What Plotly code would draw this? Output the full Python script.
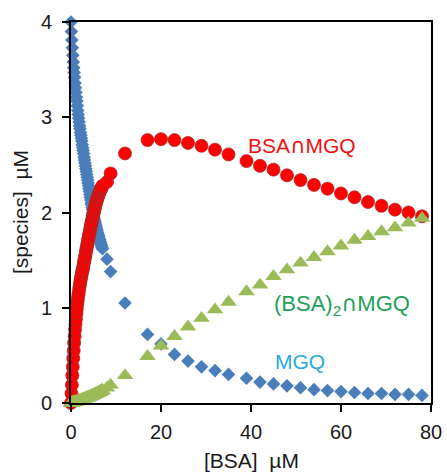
import plotly.graph_objects as go

# BSA concentration (µM) at each simulated point
bsa = [0.0, 0.1, 0.2, 0.3, 0.4, 0.5, 0.6, 0.7, 0.8, 0.9,
       1.0, 1.1, 1.2, 1.3, 1.4, 1.5, 1.6, 1.7, 1.8, 1.9,
       2.0, 2.1, 2.2, 2.3, 2.4, 2.5, 2.6, 2.7, 2.8, 2.9,
       3.0, 3.1, 3.2, 3.3, 3.4, 3.5, 3.6, 3.7, 3.8, 3.9,
       4.0, 4.1, 4.2, 4.3, 4.4, 4.5, 4.6, 4.7, 4.8, 4.9,
       5.0, 5.1, 5.2, 5.3, 5.4, 5.5, 5.6, 5.7, 5.8, 5.9,
       6.0, 6.1, 6.2, 6.3, 6.4, 6.5, 6.6, 6.7, 6.8, 6.9,
       7.0, 8.0, 8.8, 12, 17, 20, 23, 26, 29, 32, 35,
       39, 42, 45, 48, 51, 54, 57, 60, 63, 66, 69, 72, 75, 78]

# free MGQ (µM)
mgq = [4.00, 3.90, 3.81, 3.73, 3.65, 3.58, 3.52, 3.47, 3.42, 3.36,
       3.31, 3.26, 3.21, 3.17, 3.12, 3.07, 3.03, 2.99, 2.95, 2.91,
       2.88, 2.84, 2.81, 2.78, 2.75, 2.71, 2.68, 2.65, 2.62, 2.58,
       2.55, 2.52, 2.49, 2.46, 2.43, 2.40, 2.37, 2.34, 2.31, 2.28,
       2.25, 2.22, 2.19, 2.16, 2.13, 2.10, 2.08, 2.05, 2.03, 2.00,
       1.98, 1.95, 1.93, 1.91, 1.89, 1.87, 1.85, 1.83, 1.81, 1.79,
       1.77, 1.76, 1.74, 1.72, 1.71, 1.69, 1.68, 1.66, 1.65, 1.63,
       1.62, 1.51, 1.38, 1.05, 0.72, 0.62, 0.51, 0.44, 0.38, 0.34, 0.30,
       0.26, 0.22, 0.20, 0.18, 0.16, 0.14, 0.13, 0.12, 0.11, 0.10, 0.10, 0.09, 0.09, 0.08]

# BSA∩MGQ complex (µM)
bsa_mgq = [0.00, 0.10, 0.19, 0.29, 0.38, 0.47, 0.55, 0.63, 0.70, 0.77,
           0.83, 0.88, 0.94, 0.99, 1.04, 1.08, 1.12, 1.15, 1.19, 1.22,
           1.25, 1.28, 1.31, 1.33, 1.36, 1.38, 1.40, 1.42, 1.45, 1.48,
           1.50, 1.53, 1.55, 1.58, 1.61, 1.63, 1.66, 1.68, 1.71, 1.73,
           1.76, 1.78, 1.81, 1.83, 1.86, 1.88, 1.90, 1.92, 1.95, 1.97,
           1.99, 2.01, 2.03, 2.05, 2.07, 2.09, 2.11, 2.12, 2.14, 2.16,
           2.17, 2.18, 2.20, 2.21, 2.22, 2.23, 2.24, 2.25, 2.26, 2.27,
           2.28, 2.32, 2.41, 2.62, 2.76, 2.77, 2.76, 2.73, 2.70, 2.66, 2.61,
           2.54, 2.49, 2.45, 2.39, 2.34, 2.29, 2.25, 2.20, 2.16, 2.11, 2.07, 2.03, 2.00, 1.96]

# (BSA)2∩MGQ complex (µM)
bsa2_mgq = [0.000, 0.001, 0.003, 0.004, 0.005, 0.006, 0.008, 0.009, 0.010, 0.012,
            0.013, 0.014, 0.016, 0.017, 0.019, 0.020, 0.022, 0.023, 0.025, 0.026,
            0.028, 0.030, 0.031, 0.033, 0.035, 0.036, 0.038, 0.040, 0.042, 0.043,
            0.045, 0.047, 0.049, 0.051, 0.052, 0.054, 0.056, 0.058, 0.060, 0.062,
            0.064, 0.066, 0.068, 0.070, 0.072, 0.074, 0.076, 0.078, 0.081, 0.083,
            0.085, 0.087, 0.089, 0.092, 0.094, 0.096, 0.099, 0.101, 0.103, 0.106,
            0.108, 0.110, 0.113, 0.115, 0.118, 0.120, 0.123, 0.125, 0.128, 0.130,
            0.133, 0.16, 0.19, 0.29, 0.49, 0.60, 0.70, 0.80, 0.89, 0.98, 1.06,
            1.17, 1.24, 1.33, 1.40, 1.47, 1.53, 1.59, 1.65, 1.71, 1.75, 1.80, 1.84, 1.89, 1.94]

x_ticks = [0, 20, 40, 60, 80]
y_ticks = [0, 1, 2, 3, 4]

FONT = "Liberation Sans, Arial, sans-serif"
TXT = "#1a1a1a"
CAP = '<span style="font-family:DejaVu Sans">∩</span>'

fig = go.Figure()
fig.add_trace(go.Scatter(x=bsa, y=mgq, mode="markers", name="MGQ",
                         marker=dict(symbol="diamond", size=10.5, color="#4A7EBB",
                                     line=dict(width=0)),
                         cliponaxis=False))
fig.add_trace(go.Scatter(x=bsa, y=bsa_mgq, mode="markers", name="BSA∩MGQ",
                         marker=dict(symbol="circle", size=13, color="#FF0000",
                                     line=dict(width=1, color="rgba(170,40,40,0.75)")),
                         cliponaxis=False))
fig.add_trace(go.Scatter(x=bsa, y=bsa2_mgq, mode="markers", name="(BSA)2∩MGQ",
                         marker=dict(symbol="triangle-up", size=14.5, color="#9BBB59",
                                     line=dict(width=0)),
                         cliponaxis=False))

fig.add_annotation(x=38.9, y=2.70, xref="x", yref="y", text="BSA" + CAP + "MGQ",
                   showarrow=False, xanchor="left", yanchor="middle",
                   font=dict(family=FONT, size=21, color="#EE1111"))
fig.add_annotation(x=44.6, y=1.03, xref="x", yref="y", text="(BSA)<sub>2</sub>" + CAP + "MGQ",
                   showarrow=False, xanchor="left", yanchor="middle",
                   font=dict(family=FONT, size=22, color="#22A05A"))
fig.add_annotation(x=44.8, y=0.44, xref="x", yref="y", text="MGQ",
                   showarrow=False, xanchor="left", yanchor="middle",
                   font=dict(family=FONT, size=21, color="#29AAE2"))

# axis titles
fig.add_annotation(x=0.5, y=-0.15, xref="paper", yref="paper", text="[BSA]\u00a0 µM",
                   showarrow=False, xanchor="center", yanchor="middle",
                   font=dict(family=FONT, size=21, color=TXT))
fig.add_annotation(x=-0.14, y=0.5, xref="paper", yref="paper", text="[species]\u00a0 µM",
                   showarrow=False, xanchor="center", yanchor="middle", textangle=-90,
                   font=dict(family=FONT, size=21, color=TXT))

axis_common = dict(showgrid=False, zeroline=False, showline=True, linecolor="black",
                   linewidth=2, mirror=True, ticks="outside", ticklen=7, tickwidth=2,
                   tickcolor="black", automargin=False,
                   tickfont=dict(family=FONT, size=20, color=TXT))

fig.update_xaxes(range=[0, 80], tickvals=x_ticks, ticktext=[str(v) for v in x_ticks],
                 ticklabelstandoff=3, **axis_common)
fig.update_yaxes(range=[0, 4], tickvals=y_ticks, ticktext=[str(v) for v in y_ticks],
                 ticklabelstandoff=6, **axis_common)

fig.update_layout(width=447, height=475, margin=dict(l=71, r=16, t=22, b=72),
                  plot_bgcolor="white", paper_bgcolor="white", showlegend=False,
                  font=dict(family=FONT))

fig.write_html("out.html")
